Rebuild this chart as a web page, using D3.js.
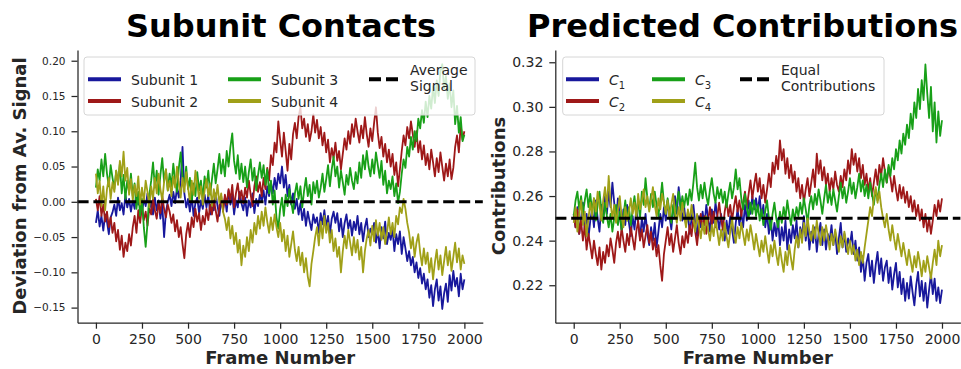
<!DOCTYPE html>
<html>
<head>
<meta charset="utf-8">
<script src="https://cdn.jsdelivr.net/npm/d3@7"></script>
<style>
  html, body { margin: 0; padding: 0; background: #fff; }
  svg { display: block; }
  text { font-family: "DejaVu Sans", sans-serif; fill: #262626; }
</style>
</head>
<body>
<svg id="chart" width="961" height="369"></svg>
<script>
// Frame numbers sampled every 10 frames
const frames = d3.range(0, 2001, 10);

// Deviation of each subunit's contact signal from the average signal
const subunit1 = [
  -.030,-.012,-.035,-.020,-.041,-.018,-.028,-.046,-.022,-.015,
  -.004,-.020,.006,-.012,-.002,-.018,.010,-.008,.004,-.014,
  .002,-.010,.014,-.004,.008,-.016,.004,-.006,.012,-.010,
  -.002,-.018,.006,-.012,.002,-.024,-.004,-.050,-.014,.000,
  .010,-.006,.014,-.002,.020,.006,.030,.078,.012,-.008,
  .004,-.014,.008,-.020,-.002,.006,-.016,.002,-.010,.010,
  -.008,.010,-.018,.004,-.012,.012,-.006,-.020,.002,-.010,
  .006,-.014,.016,-.004,.010,-.018,.002,-.008,.014,-.002,
  -.012,.006,-.020,.002,-.008,.012,-.016,.004,-.006,.010,
  .000,.016,-.004,.022,.008,.028,.012,.034,.018,.040,
  .026,.050,.020,.038,.008,.024,-.004,.012,-.010,.004,
  -.018,-.002,-.026,-.010,-.034,-.014,-.028,-.040,-.018,-.030,
  -.022,-.044,-.016,-.032,-.012,-.036,-.020,-.046,-.024,-.014,
  -.030,-.016,-.042,-.024,-.050,-.030,-.018,-.038,-.026,-.048,
  -.028,-.040,-.020,-.046,-.030,-.056,-.036,-.024,-.050,-.038,
  -.046,-.030,-.058,-.040,-.066,-.036,-.052,-.028,-.060,-.044,
  -.054,-.038,-.070,-.046,-.060,-.042,-.074,-.050,-.066,-.084,
  -.070,-.090,-.078,-.100,-.086,-.108,-.094,-.116,-.102,-.124,
  -.110,-.136,-.118,-.148,-.124,-.110,-.140,-.120,-.152,-.130,
  -.116,-.142,-.104,-.126,-.098,-.120,-.108,-.134,-.102,-.124,
  -.110
];
const subunit2 = [
  .004,-.012,.008,-.020,-.004,-.028,-.014,-.036,-.022,-.044,
  -.030,-.056,-.040,-.068,-.048,-.078,-.058,-.070,-.046,-.062,
  -.036,-.020,-.044,-.012,-.030,-.006,-.026,-.014,-.034,-.008,
  -.018,.004,-.012,-.024,-.002,-.016,.008,-.010,-.022,-.004,
  -.014,-.030,-.018,-.042,-.026,-.050,-.036,-.060,-.080,-.046,
  -.030,-.050,-.022,-.036,-.010,-.028,-.016,-.040,-.020,-.032,
  -.010,-.026,-.004,-.018,.002,-.012,-.028,-.006,.008,-.014,
  .010,-.004,.018,.002,.024,-.008,.012,.026,.004,.016,
  -.002,.020,.006,.030,.010,-.006,.022,.036,.014,.028,
  .008,.034,.018,.048,.030,.066,.052,.084,.070,.114,
  .088,.064,.098,.072,.044,.082,.060,.096,.112,.090,
  .120,.134,.104,.118,.092,.110,.086,.100,.124,.098,
  .116,.090,.106,.080,.098,.070,.088,.056,.076,.062,
  .084,.058,.072,.046,.068,.090,.074,.100,.082,.110,
  .092,.118,.100,.084,.108,.090,.120,.096,.078,.104,
  .086,.112,.134,.098,.076,.092,.064,.082,.056,.074,
  .050,.068,.038,.056,.022,.046,.072,.094,.080,.106,
  .090,.114,.096,.078,.100,.070,.086,.060,.080,.052,
  .068,.046,.074,.056,.036,.062,.042,.070,.050,.030,
  .054,.036,.060,.032,.048,.078,.094,.070,.108,.088,
  .100
];
const subunit3 = [
  .020,.046,.030,.060,.036,.068,.040,.022,.052,.034,
  .018,.044,.026,.054,.012,.038,.004,.030,.014,.040,
  .008,.026,-.010,.014,-.020,.004,-.036,-.064,-.030,.010,
  .030,.056,.020,.044,.010,.038,.062,.028,.046,.016,
  .040,.022,.054,.030,.014,.048,.070,.036,.024,.050,
  .018,.034,.000,.026,.008,.042,.016,.030,.004,.036,
  .020,.044,.010,.032,.054,.026,.046,.068,.040,.060,
  .036,.072,.050,.078,.097,.058,.040,.066,.032,.054,
  .028,.050,.020,.042,.060,.030,.048,.016,.038,.056,
  .034,.052,.024,.046,.012,.030,-.004,.016,-.022,-.038,
  -.010,.006,-.020,.010,-.006,.018,.000,-.016,.012,.026,
  .004,.022,-.008,.016,.034,.008,.024,-.004,.028,.012,
  .030,.006,.020,.040,.014,.032,.052,.022,.046,.064,
  .036,.050,.020,.044,.028,.010,.038,.024,.048,.030,
  .018,.042,.026,.056,.034,.066,.046,.072,.050,.036,
  .060,.040,.070,.052,.034,.058,.024,.044,.012,.030,
  .018,.036,.008,.026,-.002,.014,.040,.060,.048,.078,
  .064,.092,.074,.100,.086,.118,.104,.130,.112,.142,
  .120,.150,.132,.164,.140,.172,.150,.186,.195,.160,
  .178,.146,.168,.134,.158,.110,.136,.098,.120,.086,
  .095
];
const subunit4 = [
  .040,.012,.030,-.006,.022,-.012,.018,.034,.004,.028,
  .014,.044,.024,.058,.036,.071,.030,.048,.010,.032,
  .002,.024,.008,.036,-.004,.020,.000,.030,.014,-.008,
  .022,.004,.034,.012,.040,.018,.002,.028,.046,.016,
  .030,.008,.036,.020,.050,.026,.006,.034,.014,.042,
  .020,.000,.030,.010,.044,.024,.004,.022,-.004,.016,
  .032,.008,.026,-.006,.018,.002,.024,-.002,.012,-.014,
  -.024,-.040,-.022,-.052,-.034,-.060,-.044,-.072,-.054,-.090,
  -.062,-.078,-.050,-.070,-.040,-.058,-.030,-.046,-.020,-.038,
  -.014,-.034,-.008,-.028,-.044,-.022,-.040,-.018,-.036,-.050,
  -.030,-.056,-.040,-.070,-.048,-.078,-.060,-.042,-.068,-.084,
  -.064,-.090,-.072,-.100,-.080,-.106,-.120,-.088,-.070,-.050,
  -.036,-.062,-.028,-.052,-.020,-.044,-.030,-.058,-.040,-.070,
  -.052,-.078,-.064,-.100,-.070,-.048,-.066,-.040,-.058,-.076,
  -.050,-.072,-.054,-.082,-.064,-.100,-.070,-.052,-.040,-.062,
  -.034,-.056,-.026,-.048,-.030,-.054,-.036,-.060,-.044,-.022,
  -.046,-.030,-.050,-.020,-.032,-.008,-.016,.004,-.010,-.030,
  -.044,-.066,-.050,-.078,-.058,-.046,-.072,-.090,-.066,-.088,
  -.072,-.100,-.080,-.110,-.086,-.068,-.096,-.076,-.104,-.084,
  -.064,-.090,-.070,-.098,-.078,-.058,-.086,-.066,-.096,-.076,
  -.088
];

// Predicted contribution of each subunit
const contrib1 = [
  .252,.246,.255,.243,.250,.257,.245,.252,.241,.249,
  .254,.246,.258,.250,.244,.256,.249,.260,.252,.262,
  .255,.266,.257,.249,.259,.251,.245,.254,.247,.256,
  .248,.242,.251,.245,.254,.248,.241,.250,.244,.252,
  .243,.238,.246,.240,.248,.237,.244,.252,.246,.255,
  .249,.258,.251,.245,.254,.260,.252,.264,.256,.249,
  .255,.247,.253,.243,.250,.256,.248,.242,.251,.246,
  .253,.247,.256,.250,.244,.254,.248,.257,.251,.245,
  .252,.246,.240,.249,.243,.251,.245,.239,.248,.254,
  .247,.253,.246,.256,.249,.258,.252,.260,.254,.259,
  .253,.260,.250,.256,.246,.252,.243,.250,.240,.248,
  .242,.250,.238,.246,.240,.249,.236,.245,.239,.247,
  .241,.249,.237,.246,.242,.251,.240,.247,.236,.244,
  .239,.246,.235,.243,.248,.238,.245,.236,.243,.240,
  .247,.238,.244,.234,.241,.248,.237,.243,.235,.241,
  .238,.244,.234,.240,.231,.237,.226,.233,.222,.230,
  .234,.224,.231,.221,.229,.235,.225,.232,.222,.228,
  .231,.221,.228,.218,.225,.230,.219,.226,.216,.223,
  .213,.221,.214,.224,.217,.211,.220,.226,.215,.222,
  .213,.221,.210,.218,.225,.216,.223,.213,.219,.212,
  .218
];
const contrib2 = [
  .252,.246,.254,.243,.249,.240,.247,.236,.243,.238,
  .232,.240,.234,.229,.237,.227,.235,.230,.238,.233,
  .241,.236,.230,.239,.244,.237,.246,.240,.235,.243,
  .238,.246,.241,.236,.244,.249,.240,.245,.237,.242,
  .247,.239,.244,.236,.241,.233,.238,.229,.222,.234,
  .240,.246,.238,.243,.235,.241,.247,.239,.234,.242,
  .237,.244,.239,.247,.242,.250,.244,.238,.246,.252,
  .245,.251,.243,.249,.255,.247,.253,.246,.251,.257,
  .250,.245,.253,.258,.251,.256,.249,.255,.260,.253,
  .258,.251,.257,.262,.255,.261,.267,.259,.265,.270,
  .262,.268,.259,.265,.257,.263,.270,.264,.275,.270,
  .278,.272,.285,.276,.281,.270,.277,.268,.274,.266,
  .271,.262,.268,.259,.265,.257,.263,.268,.260,.266,
  .272,.264,.279,.270,.276,.267,.273,.265,.270,.262,
  .268,.263,.271,.265,.262,.269,.264,.272,.267,.276,
  .270,.281,.274,.279,.271,.277,.268,.274,.265,.270,
  .262,.268,.260,.266,.272,.265,.274,.269,.277,.271,
  .266,.273,.268,.262,.269,.263,.258,.265,.259,.264,
  .257,.262,.255,.260,.253,.258,.251,.256,.249,.254,
  .246,.252,.244,.250,.243,.249,.256,.251,.258,.253,
  .259
];
const contrib3 = [
  .251,.258,.262,.254,.260,.252,.258,.263,.255,.261,
  .253,.259,.249,.256,.262,.254,.248,.257,.251,.246,
  .252,.244,.250,.256,.247,.253,.245,.251,.258,.249,
  .255,.247,.254,.260,.252,.258,.250,.262,.256,.268,
  .259,.254,.261,.255,.262,.256,.251,.258,.266,.257,
  .252,.259,.253,.248,.256,.250,.257,.262,.254,.260,
  .255,.261,.256,.263,.258,.266,.275,.264,.258,.265,
  .259,.266,.260,.256,.263,.268,.261,.257,.264,.259,
  .263,.257,.262,.255,.261,.266,.259,.264,.272,.263,
  .268,.259,.254,.261,.255,.250,.257,.252,.258,.251,
  .256,.249,.254,.247,.253,.258,.250,.245,.252,.257,
  .250,.246,.253,.248,.255,.250,.258,.252,.247,.254,
  .249,.255,.251,.257,.252,.259,.254,.248,.256,.260,
  .254,.261,.256,.263,.258,.252,.259,.265,.257,.262,
  .256,.263,.258,.253,.260,.266,.259,.264,.257,.262,
  .268,.261,.266,.259,.264,.270,.262,.267,.260,.265,
  .259,.266,.261,.256,.263,.258,.265,.270,.264,.272,
  .266,.274,.269,.277,.272,.281,.276,.285,.279,.288,
  .283,.292,.286,.297,.290,.302,.295,.308,.299,.312,
  .303,.319,.306,.295,.309,.289,.302,.284,.298,.287,
  .294
];
const contrib4 = [
  .248,.255,.244,.252,.258,.247,.253,.242,.250,.257,
  .251,.259,.253,.262,.256,.249,.258,.264,.255,.269,
  .257,.250,.256,.248,.254,.260,.251,.246,.255,.249,
  .253,.259,.252,.257,.250,.261,.254,.258,.263,.255,
  .260,.253,.258,.264,.256,.251,.259,.254,.261,.257,
  .252,.258,.250,.256,.261,.253,.248,.255,.249,.257,
  .251,.246,.254,.249,.256,.250,.244,.252,.247,.241,
  .248,.243,.251,.245,.240,.247,.242,.250,.244,.238,
  .245,.240,.248,.242,.237,.244,.250,.243,.239,.246,
  .241,.248,.243,.238,.245,.240,.247,.242,.236,.243,
  .238,.233,.240,.235,.242,.236,.230,.238,.233,.240,
  .234,.229,.237,.231,.226,.235,.229,.238,.232,.227,
  .236,.242,.237,.245,.239,.248,.242,.250,.244,.240,
  .247,.241,.249,.243,.238,.246,.240,.247,.242,.236,
  .243,.238,.245,.240,.235,.242,.237,.244,.239,.234,
  .240,.234,.238,.231,.236,.229,.235,.230,.237,.243,
  .249,.255,.251,.259,.264,.257,.262,.255,.250,.246,
  .252,.245,.240,.247,.241,.236,.243,.238,.233,.239,
  .234,.229,.236,.231,.226,.233,.228,.235,.230,.224,
  .231,.226,.233,.228,.223,.230,.236,.229,.240,.233,
  .238
];

// Tick values
const frameTicks = [0, 250, 500, 750, 1000, 1250, 1500, 1750, 2000];
const deviationTicks = [-0.15, -0.10, -0.05, 0.00, 0.05, 0.10, 0.15, 0.20];
const contributionTicks = [0.22, 0.24, 0.26, 0.28, 0.30, 0.32];

const colors = ["#18189c", "#9e1818", "#18a018", "#a0a018"];
const ink = "#262626";

const svg = d3.select("#chart");

function drawPanel(opts) {
  const g = svg.append("g");
  const x = d3.scaleLinear().domain([-100, 2100]).range([opts.left, opts.right]);
  const y = d3.scaleLinear().domain(opts.yDomain).range([322.7, 50]);

  // data lines
  const line = d3.line().x((d, i) => x(frames[i])).y(d => y(d));
  opts.series.forEach((s, k) => {
    g.append("path")
      .datum(s)
      .attr("fill", "none")
      .attr("stroke", colors[k])
      .attr("stroke-width", 1.8)
      .attr("stroke-linejoin", "round")
      .attr("d", line);
  });

  // reference level
  g.append("line")
    .attr("x1", opts.left).attr("x2", opts.right)
    .attr("y1", y(opts.refLevel)).attr("y2", y(opts.refLevel))
    .attr("stroke", "#000").attr("stroke-width", 3)
    .attr("stroke-dasharray", "11.1,4.8");

  // axes
  const xAxis = d3.axisBottom(x).tickValues(frameTicks).tickFormat(d3.format("d"))
    .tickSize(6).tickSizeOuter(0).tickPadding(5);
  const gx = g.append("g").attr("transform", "translate(0,322.7)").call(xAxis);
  gx.selectAll("text").style("font-size", "14px").style("fill", ink);

  const yAxis = d3.axisLeft(y).tickValues(opts.yTicks).tickFormat(d3.format(".2f"))
    .tickSize(6).tickSizeOuter(0).tickPadding(6);
  const gy = g.append("g").attr("transform", `translate(${opts.left},0)`).call(yAxis);
  gy.selectAll("text").style("font-size", opts.yTickSize).style("fill", ink);

  [gx, gy].forEach(a => {
    a.select(".domain").attr("stroke", ink).attr("stroke-width", 1.25);
    a.selectAll(".tick line").attr("stroke", ink).attr("stroke-width", 1.25);
  });

  // titles and axis labels
  g.append("text")
    .attr("x", opts.titleX).attr("y", 37)
    .attr("text-anchor", opts.titleAnchor)
    .style("font-size", "32px").style("font-weight", "bold").style("fill", "#000")
    .text(opts.title);
  g.append("text")
    .attr("x", (opts.left + opts.right) / 2).attr("y", 364)
    .attr("text-anchor", "middle")
    .style("font-size", "18px").style("font-weight", "bold")
    .text("Frame Number");
  g.append("text")
    .attr("transform", `translate(${opts.ylabelX},186) rotate(-90)`)
    .attr("text-anchor", "middle")
    .style("font-size", "18px").style("font-weight", "bold")
    .text(opts.ylabel);

  // legend
  const L = opts.legend;
  g.append("rect")
    .attr("x", L.x0).attr("y", 57).attr("width", L.x1 - L.x0).attr("height", 58)
    .attr("rx", 3).attr("ry", 3)
    .attr("fill", "#fff").attr("fill-opacity", 0.8)
    .attr("stroke", "#d6d6d6").attr("stroke-width", 1);

  const rows = [79.3, 101];
  L.entries.forEach((e, k) => {
    const col = Math.floor(k / 2), row = k % 2;
    const hx = L.cols[col];
    g.append("line")
      .attr("x1", hx).attr("x2", hx + 33)
      .attr("y1", rows[row]).attr("y2", rows[row])
      .attr("stroke", colors[k]).attr("stroke-width", 4);
    const t = g.append("text")
      .attr("x", hx + 43).attr("y", rows[row] + 5.5)
      .style("font-size", "14px");
    if (e.sub) {
      t.append("tspan").style("font-style", "italic").text(e.label);
      t.append("tspan").attr("dy", 4).style("font-size", "10px").text(e.sub);
    } else {
      t.text(e.label);
    }
  });
  const dx = L.cols[2];
  g.append("line")
    .attr("x1", dx).attr("x2", dx + 29)
    .attr("y1", 79.3).attr("y2", 79.3)
    .attr("stroke", "#000").attr("stroke-width", 4)
    .attr("stroke-dasharray", "12,5");
  L.refText.forEach((s, i) => {
    g.append("text")
      .attr("x", dx + 41).attr("y", 74.5 + i * 16)
      .style("font-size", "14px")
      .text(s);
  });
}

drawPanel({
  left: 77.5, right: 482.8,
  yDomain: [-0.1714, 0.2152],
  yTicks: deviationTicks, yTickSize: "10.5px",
  series: [subunit1, subunit2, subunit3, subunit4],
  refLevel: 0,
  title: "Subunit Contacts", titleX: 281, titleAnchor: "middle",
  ylabel: "Deviation from Av. Signal", ylabelX: 26,
  legend: {
    x0: 84, x1: 475, cols: [88, 228, 369],
    entries: [{label: "Subunit 1"}, {label: "Subunit 2"}, {label: "Subunit 3"}, {label: "Subunit 4"}],
    refText: ["Average", "Signal"]
  }
});

drawPanel({
  left: 555.3, right: 960.4,
  yDomain: [0.2032, 0.3255],
  yTicks: contributionTicks, yTickSize: "14px",
  series: [contrib1, contrib2, contrib3, contrib4],
  refLevel: 0.25,
  title: "Predicted Contributions", titleX: 958, titleAnchor: "end",
  ylabel: "Contributions", ylabelX: 505,
  legend: {
    x0: 562.7, x1: 884, cols: [566, 652, 740],
    entries: [{label: "C", sub: "1"}, {label: "C", sub: "2"}, {label: "C", sub: "3"}, {label: "C", sub: "4"}],
    refText: ["Equal", "Contributions"]
  }
});
</script>
</body>
</html>
